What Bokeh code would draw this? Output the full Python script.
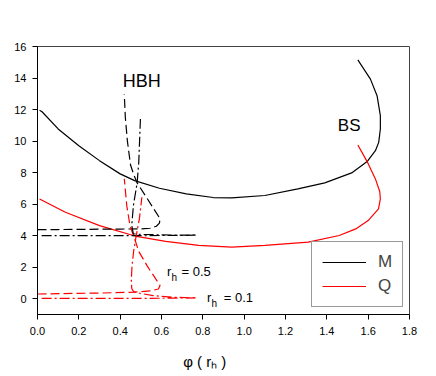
from bokeh.plotting import figure
from bokeh.models import Label, Legend, LegendItem, FixedTicker, PrintfTickFormatter
from bokeh.embed import file_html
from bokeh.resources import INLINE

# ---- data ----
# Boson star (BS) branch: M and Q vs phi(r_h)
bs_m_x = [0.01, 0.022, 0.10, 0.20, 0.30, 0.40, 0.47, 0.59, 0.72, 0.85, 0.94, 1.10, 1.26, 1.39, 1.52, 1.595, 1.635, 1.651, 1.659, 1.659, 1.643, 1.611, 1.55]
bs_m_y = [11.95, 11.86, 10.77, 9.71, 8.76, 7.92, 7.49, 7.01, 6.65, 6.42, 6.40, 6.55, 6.97, 7.35, 7.98, 8.70, 9.39, 9.92, 10.77, 11.61, 12.88, 13.93, 15.15]
bs_q_x = [0.01, 0.135, 0.30, 0.48, 0.62, 0.78, 0.94, 1.10, 1.31, 1.46, 1.54, 1.60, 1.65, 1.659, 1.656, 1.635, 1.595, 1.55]
bs_q_y = [6.33, 5.49, 4.64, 3.95, 3.64, 3.38, 3.27, 3.38, 3.59, 4.01, 4.43, 4.96, 5.70, 6.33, 6.80, 7.60, 8.70, 9.75]

# Hairy black holes (HBH), r_h = 0.5 (dashed)
h05_m_x = [0.00, 0.10, 0.20, 0.30, 0.40, 0.50, 0.545, 0.575, 0.59, 0.593, 0.537, 0.482, 0.465, 0.45, 0.435, 0.425, 0.42]
h05_m_y = [4.38, 4.39, 4.40, 4.41, 4.42, 4.43, 4.47, 4.60, 4.80, 5.07, 6.23, 7.35, 7.90, 8.50, 10.0, 11.5, 12.95]
h05_q_x = [0.00, 0.10, 0.30, 0.47, 0.55, 0.585, 0.593, 0.565, 0.53, 0.49, 0.47, 0.448, 0.432, 0.42]
h05_q_y = [0.30, 0.32, 0.36, 0.42, 0.50, 0.62, 0.84, 1.40, 2.10, 3.00, 3.80, 4.60, 5.90, 7.60]

# Hairy black holes (HBH), r_h = 0.1 (dash-dot)
h01_m_x = [0.02, 0.30, 0.60, 0.77, 0.60, 0.50, 0.464, 0.456, 0.464, 0.482, 0.49, 0.498]
h01_m_y = [4.00, 4.00, 4.01, 4.03, 4.05, 4.08, 4.12, 4.64, 5.91, 7.35, 8.66, 11.40]
h01_q_x = [0.02, 0.30, 0.60, 0.77, 0.65, 0.56, 0.50, 0.465, 0.456, 0.454, 0.457, 0.465, 0.475, 0.493, 0.505]
h01_q_y = [0.02, 0.02, 0.03, 0.05, 0.10, 0.20, 0.33, 0.45, 0.65, 1.20, 2.00, 3.00, 3.80, 5.07, 6.44]

x_ticks = [0.0, 0.2, 0.4, 0.6, 0.8, 1.0, 1.2, 1.4, 1.6, 1.8]
y_ticks = [0, 2, 4, 6, 8, 10, 12, 14, 16]

FONT = "Liberation Sans"

p = figure(width=430, height=372, x_range=(0, 1.8), y_range=(-1, 16),
           output_backend="svg", toolbar_location=None,
           min_border_left=37, min_border_right=21, min_border_top=46, min_border_bottom=57)
p.xgrid.visible = False
p.ygrid.visible = False
p.outline_line_color = "#444444"
p.outline_line_width = 1
p.background_fill_color = "white"
p.border_fill_color = "white"

for ax in (p.xaxis[0], p.yaxis[0]):
    ax.major_tick_in = 0
    ax.major_tick_out = 5
    ax.minor_tick_line_color = None
    ax.axis_line_color = "black"
    ax.major_tick_line_color = "black"
    ax.major_label_text_font = FONT
    ax.major_label_text_font_size = "11px"
    ax.major_label_text_color = "black"
p.xaxis[0].ticker = FixedTicker(ticks=x_ticks)
p.xaxis[0].formatter = PrintfTickFormatter(format="%.1f")
p.xaxis[0].major_label_standoff = 7
p.yaxis[0].ticker = FixedTicker(ticks=y_ticks)
p.yaxis[0].formatter = PrintfTickFormatter(format="%d")
p.yaxis[0].major_label_standoff = 6

# trailing no-break spaces shift the centred title left, as in the reference
p.xaxis[0].axis_label = "φ ( rₕ )" + "\u00a0" * 9
p.xaxis[0].axis_label_text_font = FONT
p.xaxis[0].axis_label_text_font_size = "15px"
p.xaxis[0].axis_label_text_font_style = "normal"
p.xaxis[0].axis_label_text_color = "black"
p.xaxis[0].axis_label_standoff = 15

DASH = "9 4"
DASHDOT = "10 3 2 3"

rm = p.line(bs_m_x, bs_m_y, line_color="black", line_width=1.2)
rq = p.line(bs_q_x, bs_q_y, line_color="#ff0000", line_width=1.2)
p.line(h05_m_x, h05_m_y, line_color="black", line_width=1.2, line_dash=DASH)
p.line(h05_q_x, h05_q_y, line_color="#ff0000", line_width=1.2, line_dash=DASH)
p.line(h01_m_x, h01_m_y, line_color="black", line_width=1.2, line_dash=DASHDOT)
p.line(h01_q_x, h01_q_y, line_color="#ff0000", line_width=1.2, line_dash=DASHDOT)

legend = Legend(items=[LegendItem(label="M", renderers=[rm]),
                       LegendItem(label="Q", renderers=[rq])],
                location=(274, 7), margin=0, padding=10, spacing=4,
                glyph_width=44, glyph_height=20, label_standoff=12, label_width=10,
                label_text_font=FONT, label_text_font_size="17px",
                border_line_color="#333333", border_line_width=1,
                background_fill_color="white", background_fill_alpha=1.0)
p.add_layout(legend)

def lab(x, y, t, size, **kw):
    p.add_layout(Label(x=x, y=y, text=t, text_font=FONT, text_font_size=size,
                       text_color="black", text_baseline="alphabetic", **kw))

lab(0.413, 13.8, "HBH", "18px")
lab(1.453, 11.02, "BS", "17px")
lab(0.627, 1.70, "r", "13px")
lab(0.648, 1.32, "h", "10px")
lab(0.697, 1.70, "= 0.5", "13px")
lab(0.82, 0.05, "r", "13px")
lab(0.842, -0.31, "h", "10px")
lab(0.901, 0.05, "= 0.1", "13px")

open("out.html", "w").write(file_html(p, INLINE))
